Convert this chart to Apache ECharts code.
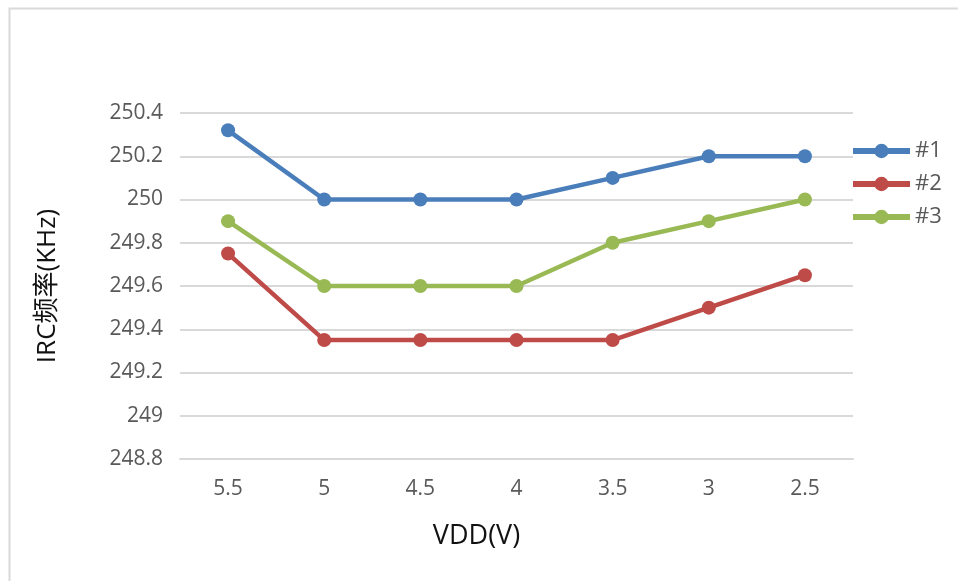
<!DOCTYPE html>
<html>
<head>
<meta charset="utf-8">
<script src="https://cdn.jsdelivr.net/npm/echarts@6/dist/echarts.min.js"></script>
<style>
  html, body { margin: 0; padding: 0; background: #fff; }
  #main { width: 958px; height: 581px; }
</style>
</head>
<body>
<div id="main"></div>
<script>
// 横轴 VDD(V)
var vdd = ['5.5', '5', '4.5', '4', '3.5', '3', '2.5'];
// 三颗芯片的 IRC 频率 (KHz)
var chip1 = [250.32, 250, 250, 250, 250.1, 250.2, 250.2];
var chip2 = [249.75, 249.35, 249.35, 249.35, 249.35, 249.5, 249.65];
var chip3 = [249.9, 249.6, 249.6, 249.6, 249.8, 249.9, 250];
var names = ['#1', '#2', '#3'];
var colors = ['#4a7ebb', '#be4b48', '#98b954'];

var myChart = echarts.init(document.getElementById('main'));
var font = '"Open Sans", sans-serif';

function line(name, data, color) {
    return {
        name: name,
        type: 'line',
        data: data,
        symbol: 'circle',
        symbolSize: 14,
        lineStyle: { color: color, width: 4.5 },
        itemStyle: { color: color },
        animation: false
    };
}

var option = {
    color: colors,
    graphic: [{
        type: 'rect',
        left: 7, top: 6,
        shape: { width: 1200, height: 1200 },
        style: { fill: 'none', stroke: '#d9d9d9', lineWidth: 2 },
        z: -1
    }],
    legend: {
        orient: 'vertical',
        left: 845,
        top: 135,
        itemWidth: 57,
        itemHeight: 18,
        itemGap: 11,
        data: names,
        lineStyle: { width: 6 },
        textStyle: { fontFamily: font, fontSize: 22, color: '#595959' }
    },
    grid: { left: 180, right: 105, top: 113, bottom: 122 },
    xAxis: {
        type: 'category',
        data: vdd,
        boundaryGap: true,
        name: 'VDD(V)',
        nameLocation: 'middle',
        nameGap: 64,
        nameTextStyle: { fontFamily: font, fontSize: 27, color: '#111', padding: [0, 80, 0, 0] },
        axisLine: { lineStyle: { color: '#d9d9d9', width: 2 } },
        axisTick: { show: false },
        axisLabel: { fontFamily: font, fontSize: 21, color: '#595959', margin: 20 }
    },
    yAxis: {
        type: 'value',
        min: 248.8,
        max: 250.4,
        interval: 0.2,
        name: 'IRC频率(KHz)',
        nameLocation: 'middle',
        nameRotate: 90,
        nameGap: 119,
        nameTextStyle: { fontFamily: '"Open Sans", "Noto Sans CJK SC", sans-serif', fontSize: 26, color: '#111' },
        axisLine: { show: false },
        axisTick: { show: false },
        splitLine: { lineStyle: { color: '#d9d9d9', width: 2 } },
        axisLabel: { fontFamily: font, fontSize: 21, color: '#595959', margin: 17 }
    },
    series: [
        line(names[0], chip1, colors[0]),
        line(names[1], chip2, colors[1]),
        line(names[2], chip3, colors[2])
    ]
};

myChart.setOption(option);
</script>
</body>
</html>
